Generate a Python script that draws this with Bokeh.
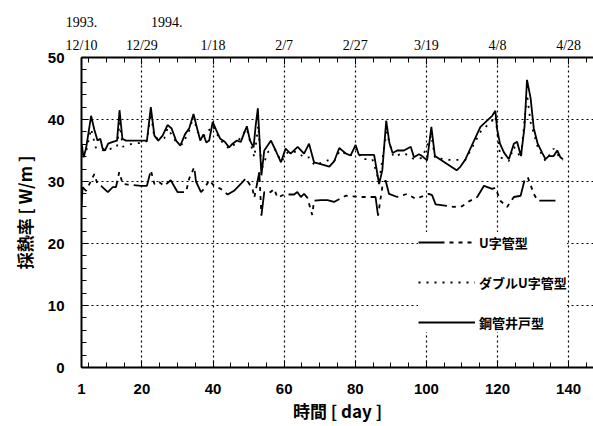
from bokeh.plotting import figure
from bokeh.models import Range1d, LinearAxis, FixedTicker, Legend, LegendItem
from bokeh.embed import file_html
from bokeh.resources import INLINE

# ---- data ----
# 鋼管井戸型 (solid)
well_x = [3.0, 3.6, 4.3, 5.7, 6.6, 7.5, 8.3, 8.9, 9.6, 10.5, 11.8, 13.0, 13.7, 14.5, 15.5, 19.7,
          21.4, 22.5, 23.5, 24.6, 25.8, 27.2, 28.3, 29.6, 30.8, 32.1, 33.3, 34.5, 35.6, 36.4, 37.3,
          38.1, 38.9, 39.9, 40.8, 42.0, 43.3, 44.5, 45.5, 46.7, 47.8, 48.6, 49.5, 50.4, 51.4, 52.0,
          52.6, 53.6, 54.4, 56.3, 57.6, 59.1, 60.4, 61.8, 63.8, 65.6, 67.0, 68.4, 70.3, 72.7, 74.1,
          75.5, 77.4, 78.7, 80.1, 81.0, 85.3, 86.7, 87.6,
          88.7, 89.6, 90.5, 91.8, 93.7, 95.6, 96.5, 97.9, 98.8, 100.2, 101.4, 102.4, 108.5, 109.6,
          111.0, 115.2, 118.5, 119.4, 119.9, 120.7, 121.8, 123.2, 124.6, 125.5, 126.6, 127.6, 128.3,
          129.3, 130.2, 131.3, 132.5, 133.5, 134.4, 135.8, 136.8, 137.7, 138.4]
well_y = [36.1, 33.9, 35.4, 40.6, 38.4, 36.6, 36.9, 35.4, 35.0, 36.1, 36.4, 36.6, 41.5, 36.9, 36.6, 36.6,
          36.6, 42.0, 37.4, 36.6, 37.4, 39.1, 38.6, 36.6, 35.8, 37.6, 38.6, 40.9, 38.4, 36.6, 37.6,
          36.3, 36.6, 39.6, 38.4, 36.9, 36.4, 35.5, 36.1, 36.6, 36.4, 37.6, 38.9, 36.6, 35.5, 39.1,
          41.8, 31.0, 35.0, 36.6, 35.0, 33.1, 35.3, 34.5, 35.6, 34.5, 36.1, 33.1, 32.8, 32.4, 33.3,
          35.4, 34.5, 34.2, 35.9, 34.3, 34.3, 29.6, 31.8,
          39.8, 36.2, 34.6, 35.0, 35.0, 35.6, 33.9, 34.4, 34.1, 33.4, 38.8, 34.1, 31.8, 32.4,
          33.6, 38.8, 40.6, 41.4, 38.4, 36.1, 34.7, 33.6, 36.1, 36.4, 34.1, 38.8, 46.4,
          43.5, 38.6, 36.1, 34.7, 33.6, 34.1, 34.1, 35.0, 33.9, 33.6]

# ダブルU字管型 (dotted)
dbl_x = [3.0, 4.3, 5.7, 7.0, 8.0, 9.9, 11.8, 13.0, 13.7, 14.6, 16.0, 17.4, 19.3, 21.4, 22.5, 23.5,
         26.3, 27.2, 29.6, 31.4, 33.3, 34.5, 35.6, 37.3, 39.9, 42.0, 44.5, 46.7, 49.5, 51.6, 52.7,
         53.7, 55.5, 57.4, 59.2, 61.1, 63.5, 65.8, 67.0, 68.6, 72.2, 74.0, 75.7, 78.5, 80.4, 81.8,
         84.8, 86.7, 88.8, 90.7, 93.7, 96.5, 98.8, 101.4, 102.4, 106.3, 109.8, 111.0, 115.2, 118.5,
         119.4, 120.8, 123.2, 124.6, 126.6, 128.3, 129.3, 131.3, 133.5, 135.8, 137.7, 138.4]
dbl_y = [35.5, 34.8, 38.5, 35.5, 35.1, 35.0, 35.4, 35.6, 39.5, 35.6, 35.9, 36.1, 36.2, 36.5, 41.0, 37.0,
         37.0, 38.6, 36.4, 36.0, 38.2, 40.5, 38.0, 37.2, 39.0, 36.7, 35.3, 36.3, 38.5, 33.9, 39.0,
         32.0, 34.8, 35.2, 33.2, 34.8, 34.8, 33.8, 33.9, 32.6, 33.4, 33.2, 35.0, 34.1, 35.3, 33.6,
         33.6, 30.0, 38.0, 34.0, 34.6, 33.6, 33.8, 37.5, 33.8, 33.5, 33.5, 33.5, 38.0, 39.8,
         40.5, 33.9, 33.3, 35.6, 33.8, 44.0, 39.6, 35.6, 33.3, 35.3, 33.7, 33.4]

# U字管型 (dashed)
u_x = [3.0, 3.3, 4.3, 6.6, 7.5, 8.5, 10.4, 11.8, 12.7, 13.6, 14.6, 16.0, 19.7, 21.4, 22.5, 23.5,
       24.6, 26.3, 28.1, 30.0, 32.4, 33.3, 34.7, 35.2, 36.6, 37.5, 38.9, 40.3, 42.2, 44.1, 45.9,
       47.8, 49.2, 51.1, 51.6, 52.5, 53.0, 53.6, 54.4, 55.3, 56.2, 57.2, 58.1, 60.0, 62.8, 63.7,
       64.7, 65.6, 66.5, 67.9, 68.4, 70.3, 72.2, 74.0, 77.3, 81.5, 85.7, 86.4, 87.6, 88.5, 89.5,
       91.8, 94.6, 97.0, 100.7, 101.6, 102.6, 107.7, 110.0, 112.0, 114.3, 116.2, 118.5, 119.4,
       120.8, 122.7, 124.6, 126.5, 127.6, 128.5, 129.4, 130.2, 131.3, 134.9, 136.3]
u_y = [25.9, 29.1, 28.5, 31.2, 29.6, 29.3, 28.3, 29.1, 29.1, 31.5, 29.6, 29.5, 29.3, 29.3, 31.8, 29.6,
       30.0, 29.3, 30.2, 28.3, 28.3, 30.5, 32.3, 30.0, 28.3, 28.8, 30.2, 29.3, 28.8, 27.9, 28.5,
       29.6, 30.5, 28.8, 27.4, 30.0, 31.5, 24.5, 28.3, 28.5, 28.3, 28.8, 27.4, 27.9, 27.9, 28.3,
       27.5, 28.0, 27.4, 24.6, 26.9, 27.0, 27.0, 26.7, 27.7, 27.5, 27.5, 24.5, 29.1, 30.2, 28.0,
       27.5, 28.0, 27.2, 28.0, 27.8, 26.3, 25.9, 26.0, 26.8, 27.5, 29.3, 28.8, 29.0,
       26.9, 25.9, 27.5, 27.7, 30.2, 30.7, 29.3, 28.0, 26.9, 26.9, 26.9]

x_ticks = [3, 20, 40, 60, 80, 100, 120, 140]
x_tick_labels = ["1", "20", "40", "60", "80", "100", "120", "140"]
date_labels = ["12/10", "12/29", "1/18", "2/7", "2/27", "3/19", "4/8", "4/28"]
year_ticks = [3, 27]
year_labels = ["1993.", "1994."]
y_ticks = [0, 10, 20, 30, 40, 50]

NUM_FONT = "Liberation Sans"
JP_FONT = "Noto Sans CJK JP"

p = figure(width=593, height=426, x_range=Range1d(3, 147.0), y_range=Range1d(0, 50),
           output_backend="svg", toolbar_location=None,
           min_border_left=81, min_border_right=0, min_border_top=57, min_border_bottom=59)
p.outline_line_color = None

minor_x = [v for v in range(5, 150, 5) if v % 20 != 0]
xt = FixedTicker(ticks=x_ticks, minor_ticks=minor_x)
yt = FixedTicker(ticks=y_ticks, minor_ticks=[v for v in range(2, 50, 2) if v % 10 != 0])

# bottom axis
xa = p.xaxis[0]
xa.ticker = xt
xa.major_label_overrides = {t: l for t, l in zip(x_ticks, x_tick_labels)}
xa.major_tick_in = 7
xa.major_tick_out = 0
xa.minor_tick_in = 5
xa.minor_tick_out = 0
xa.axis_line_width = 2
xa.major_label_standoff = 16
xa.major_label_text_font = NUM_FONT
xa.major_label_text_font_style = "bold"
xa.major_label_text_font_size = "15px"
xa.major_label_text_color = "black"
xa.axis_label = "時間 [ day ]"
xa.axis_label_text_font = JP_FONT
xa.axis_label_text_font_style = "bold"
xa.axis_label_text_font_size = "17px"
xa.axis_label_text_color = "black"
xa.axis_label_standoff = 1

# left axis
ya = p.yaxis[0]
ya.ticker = yt
ya.major_tick_in = 7
ya.major_tick_out = 0
ya.minor_tick_in = 5
ya.minor_tick_out = 0
ya.axis_line_width = 2
ya.major_label_standoff = 17
ya.major_label_text_font = NUM_FONT
ya.major_label_text_font_style = "bold"
ya.major_label_text_font_size = "15px"
ya.major_label_text_color = "black"
ya.axis_label = "採熱率 [ W/m ]"
ya.axis_label_text_font = JP_FONT
ya.axis_label_text_font_style = "bold"
ya.axis_label_text_font_size = "17px"
ya.axis_label_text_color = "black"
ya.axis_label_standoff = 8

# top axis (dates)
ta = LinearAxis(ticker=xt)
ta.major_label_overrides = {t: l for t, l in zip(x_ticks, date_labels)}
ta.major_tick_in = 7
ta.major_tick_out = 0
ta.minor_tick_in = 5
ta.minor_tick_out = 0
ta.axis_line_width = 2
ta.major_label_standoff = 5
ta.major_label_text_font = "Liberation Serif"
ta.major_label_text_font_size = "14px"
ta.major_label_text_color = "black"
p.add_layout(ta, "above")

# year row above the dates
ya2 = LinearAxis(ticker=FixedTicker(ticks=year_ticks, minor_ticks=[]))
ya2.major_label_overrides = {t: l for t, l in zip(year_ticks, year_labels)}
ya2.axis_line_color = None
ya2.major_tick_line_color = None
ya2.minor_tick_line_color = None
ya2.major_tick_in = 0
ya2.major_tick_out = 0
ya2.major_label_standoff = 8
ya2.major_label_text_font = "Liberation Serif"
ya2.major_label_text_font_size = "14px"
ya2.major_label_text_color = "black"
p.add_layout(ya2, "above")

# grids
p.xgrid.ticker = FixedTicker(ticks=[20, 40, 60, 80, 100, 120, 140])
p.ygrid.ticker = FixedTicker(ticks=[10, 20, 30, 40])
for g in (p.xgrid[0], p.ygrid[0]):
    g.grid_line_color = "black"
    g.grid_line_dash = "2 3"
    g.grid_line_width = 1.2
    g.grid_line_alpha = 1.0

r_u = p.line(u_x, u_y, line_color="black", line_width=1.8, line_dash="26 5 4 5 4 5 4 5")
r_d = p.line(dbl_x, dbl_y, line_color="black", line_width=1.8, line_dash="2 6")
r_w = p.line(well_x, well_y, line_color="black", line_width=1.8)

legend = Legend(items=[LegendItem(label="U字管型", renderers=[r_u]),
                       LegendItem(label="ダブルU字管型", renderers=[r_d]),
                       LegendItem(label="鋼管井戸型", renderers=[r_w])],
                location=(337, 35))
legend.background_fill_color = "white"
legend.background_fill_alpha = 1.0
legend.border_line_color = None
legend.glyph_width = 57
legend.glyph_height = 20
legend.label_standoff = 4
legend.spacing = 20
legend.padding = 8
legend.margin = 0
legend.label_text_font = JP_FONT
legend.label_text_font_size = "13px"
legend.label_text_font_style = "bold"
legend.label_text_color = "black"
p.add_layout(legend)

open("out.html", "w").write(file_html(p, INLINE))
